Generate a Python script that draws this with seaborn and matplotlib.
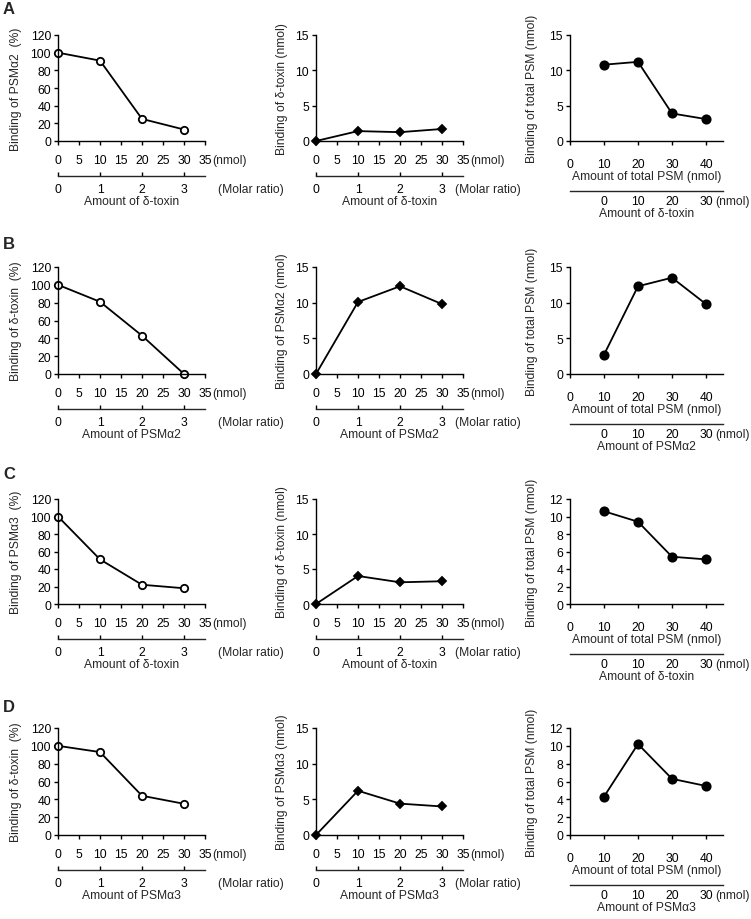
import pandas as pd
import matplotlib
matplotlib.use("Agg")
import matplotlib.pyplot as plt
import matplotlib.transforms as mtransforms
import seaborn as sns

# --- data ---
toxin_nmol = [0, 10, 20, 30]          # added amount (nmol), panels 1 and 2
total_psm = [10, 20, 30, 40]          # total PSM (nmol), panel 3

a_pct = [100, 91, 25, 13]
a_nmol = [0, 1.4, 1.25, 1.7]
a_total = [10.8, 11.2, 3.9, 3.1]

b_pct = [100, 81, 43, 0]
b_nmol = [0, 10.1, 12.3, 9.8]
b_total = [2.7, 12.3, 13.5, 9.8]

c_pct = [100, 51, 22, 18]
c_nmol = [0, 4.0, 3.1, 3.25]
c_total = [10.6, 9.4, 5.4, 5.1]

d_pct = [100, 93, 44, 35]
d_nmol = [0, 6.2, 4.4, 4.0]
d_total = [4.3, 10.2, 6.3, 5.5]

letters = ["A", "B", "C", "D"]
pct_labels = ["Binding of PSMα2  (%)", "Binding of δ-toxin  (%)",
              "Binding of PSMα3  (%)", "Binding of δ-toxin  (%)"]
nmol_labels = ["Binding of δ-toxin (nmol)", "Binding of PSMα2 (nmol)",
               "Binding of δ-toxin (nmol)", "Binding of PSMα3 (nmol)"]
added_labels = ["Amount of δ-toxin", "Amount of PSMα2",
                "Amount of δ-toxin", "Amount of PSMα3"]
total_ymax = [15, 15, 12, 12]

pct_rows = [a_pct, b_pct, c_pct, d_pct]
nmol_rows = [a_nmol, b_nmol, c_nmol, d_nmol]
total_rows = [a_total, b_total, c_total, d_total]

# --- layout (pixels) ---
W, H = 751, 920
rows_px = [(36, 142), (268, 375), (500, 605), (729, 836)]
letter_y = [9, 245, 475, 708]
cols_px = [(58, 147), (316, 147), (570, 153)]
FS = 8.7

sns.set_theme(style="ticks")
plt.rcParams['font.family'] = ['Liberation Sans', 'DejaVu Sans']
plt.rcParams['axes.linewidth'] = 1.0

fig = plt.figure(figsize=(W / 100, H / 100), dpi=100)


def make_ax(col, row, xpad):
    left, width = cols_px[col]
    top, bottom = rows_px[row]
    ax = fig.add_axes([left / W, 1 - bottom / H, width / W, (bottom - top) / H])
    sns.despine(ax=ax)
    ax.tick_params(direction='out', length=3, width=1, labelsize=FS, colors='black')
    ax.tick_params(axis='x', pad=xpad)
    ax.tick_params(axis='y', pad=2)
    for s in ax.spines.values():
        s.set_color('black')
    return ax, bottom - top


def draw(ax, x, y, marker, face, ms):
    df = pd.DataFrame({'x': x, 'y': y})
    sns.lineplot(data=df, x='x', y='y', ax=ax, color='black', lw=1.3,
                 marker=marker, markersize=ms, markerfacecolor=face,
                 markeredgecolor='black', markeredgewidth=1.3, clip_on=False)
    ax.set_xlabel('')


for r in range(4):
    # ---- panels 1 and 2: binding vs. added amount ----
    for c in range(2):
        ax, h = make_ax(c, r, 6.5)
        if c == 0:
            draw(ax, toxin_nmol, pct_rows[r], 'o', 'white', 5.3)
            ax.set_ylim(0, 120)
            ax.set_yticks(range(0, 121, 20))
            ax.set_ylabel(pct_labels[r], fontsize=FS)
            ax.yaxis.set_label_coords(-0.245, 0.5)
        else:
            draw(ax, toxin_nmol, nmol_rows[r], 'D', 'black', 4)
            ax.set_ylim(0, 15)
            ax.set_yticks([0, 5, 10, 15])
            ax.set_ylabel(nmol_labels[r], fontsize=FS)
            ax.yaxis.set_label_coords(-0.19, 0.5)
        ax.set_xlim(0, 35)
        ax.set_xticks(range(0, 36, 5))
        trans = mtransforms.blended_transform_factory(ax.transData, ax.transAxes)
        ax.text(36.8, -19 / h, "(nmol)", transform=trans, fontsize=FS,
                ha='left', va='center')

        loc = -35 / h
        sec = ax.secondary_xaxis(loc, functions=(lambda v: v / 10, lambda v: v * 10))
        sec.set_xticks([0, 1, 2, 3])
        sec.tick_params(direction='in', length=3, width=1, labelsize=FS, pad=5,
                        colors='black')
        sec.spines['bottom'].set_linewidth(1.0)
        sec.set_xlabel(added_labels[r], fontsize=FS, labelpad=0)
        ax.text(38 if c == 0 else 33, loc - 13 / h, "(Molar ratio)", transform=trans,
                fontsize=FS, ha='left', va='center')

    # ---- panel 3: total PSM binding ----
    ax, h = make_ax(2, r, 9.5)
    draw(ax, total_psm, total_rows[r], 'o', 'black', 6)
    ax.set_xlim(0, 45)
    ax.set_xticks([0, 10, 20, 30, 40])
    ax.set_ylim(0, total_ymax[r])
    if total_ymax[r] == 15:
        ax.set_yticks([0, 5, 10, 15])
    else:
        ax.set_yticks(range(0, 13, 2))
    ax.set_ylabel("Binding of total PSM (nmol)", fontsize=FS)
    ax.yaxis.set_label_coords(-0.21, 0.5)
    ax.set_xlabel("Amount of total PSM (nmol)", fontsize=FS, labelpad=0)
    loc = -50 / h
    sec = ax.secondary_xaxis(loc, functions=(lambda v: v - 10, lambda v: v + 10))
    sec.set_xticks([0, 10, 20, 30])
    sec.tick_params(direction='in', length=0, labelsize=FS, pad=3, colors='black')
    sec.spines['bottom'].set_linewidth(1.0)
    sec.set_xlabel(added_labels[r], fontsize=FS, labelpad=0)
    trans = mtransforms.blended_transform_factory(ax.transData, ax.transAxes)
    ax.text(42.6, loc - 10 / h, "(nmol)", transform=trans, fontsize=FS,
            ha='left', va='center')

    fig.text(3 / W, 1 - letter_y[r] / H, letters[r], fontsize=12, fontweight='bold',
             ha='left', va='center')

fig.savefig("out.png", dpi=100)
